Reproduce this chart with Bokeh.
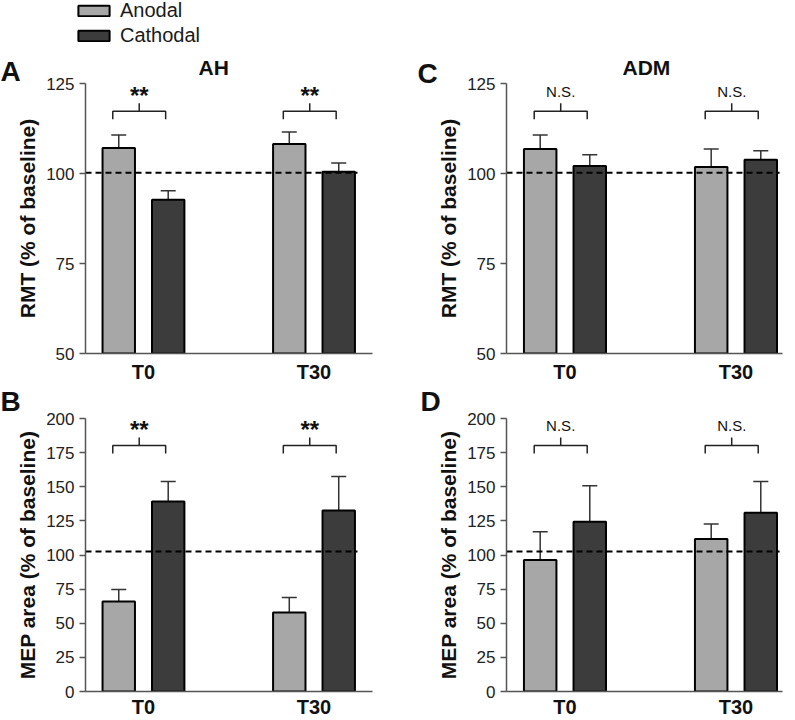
from bokeh.plotting import figure
from bokeh.layouts import row, column
from bokeh.models import (ColumnDataSource, Whisker, TeeHead, Label, Legend,
                          LegendItem, FixedTicker, Range1d)
from bokeh.core.properties import value
from bokeh.embed import file_html
from bokeh.resources import INLINE

# ---------------- data ----------------
times = ["T0", "T30"]
groups = ["Anodal", "Cathodal"]

# AH muscle – RMT (% of baseline)
ah_rmt_anodal = [107.1, 108.2]
ah_rmt_anodal_sem = [3.6, 3.3]
ah_rmt_cathodal = [92.7, 100.5]
ah_rmt_cathodal_sem = [2.5, 2.4]

# AH muscle – MEP area (% of baseline)
ah_mep_anodal = [65.9, 57.9]
ah_mep_anodal_sem = [8.8, 11.0]
ah_mep_cathodal = [139.2, 132.6]
ah_mep_cathodal_sem = [14.6, 24.9]

# ADM muscle – RMT (% of baseline)
adm_rmt_anodal = [106.8, 101.8]
adm_rmt_anodal_sem = [3.9, 5.0]
adm_rmt_cathodal = [102.1, 103.8]
adm_rmt_cathodal_sem = [3.1, 2.5]

# ADM muscle – MEP area (% of baseline)
adm_mep_anodal = [96.3, 111.8]
adm_mep_anodal_sem = [20.7, 11.0]
adm_mep_cathodal = [124.3, 130.9]
adm_mep_cathodal_sem = [26.5, 22.9]

rmt_ticks = [50, 75, 100, 125]
mep_ticks = [0, 25, 50, 75, 100, 125, 150, 175, 200]
rmt_baseline_line = 100.2
mep_baseline_line = 102.6
rmt_bracket = 117.3
mep_bracket = 180.2
sig_ah = ["**", "**"]
sig_adm = ["N.S.", "N.S."]

# ---------------- style ----------------
FONT = "Liberation Sans"
ANOD = "#a7a7a7"
CATH = "#3c3c3c"
AXC = "#555555"
DODGE = 0.145
BAR_W = 0.19
BR_SHIFT = -0.025
BR_HALF = 0.155
NAN = float("nan")


def make_panel(anod, anod_sem, cath, cath_sem, yticks, ylabel, ref_line,
               br_level, marks, xr, width, height, bl, br, bt, bb, x_standoff,
               title=None, title_offset=0):
    fh = height - bt - bb
    dy = (yticks[-1] - yticks[0]) / fh
    xs = list(range(len(times)))
    p = figure(width=width, height=height, x_range=Range1d(*xr),
               y_range=Range1d(yticks[0], yticks[-1]), output_backend="svg",
               toolbar_location=None, title=title, min_border=0)
    p.min_border_left = bl
    p.min_border_right = br
    p.min_border_top = bt
    p.min_border_bottom = bb
    p.outline_line_color = None
    p.xgrid.visible = False
    p.ygrid.visible = False
    p.background_fill_color = "white"
    p.border_fill_color = "white"
    if title:
        p.title.align = "left"
        p.title.vertical_align = "bottom"
        p.title.offset = title_offset
        p.title.text_font = FONT
        p.title.text_font_size = "21px"
        p.title.text_font_style = "bold"
        p.title.text_color = "#111111"
        try:
            p.title.standoff = 10
        except Exception:
            pass

    rends = []
    for vals, sems, off, color in ((anod, anod_sem, -DODGE, ANOD),
                                   (cath, cath_sem, DODGE, CATH)):
        src = ColumnDataSource(dict(x=[i + off for i in xs], top=vals,
                                    upper=[v + e for v, e in zip(vals, sems)]))
        w = Whisker(source=src, base="x", lower="top", upper="upper",
                    dimension="height", line_color="#333333", line_width=1.5,
                    lower_head=None,
                    upper_head=TeeHead(size=15, line_color="#333333", line_width=1.5))
        p.add_layout(w)
        r = p.vbar(x="x", top="top", bottom=yticks[0], width=BAR_W, source=src,
                   fill_color=color, line_color="black", line_width=2)
        rends.append(r)

    # dashed baseline reference
    p.segment(x0=[xr[0]], y0=[ref_line], x1=[xs[-1] + DODGE + BAR_W / 2 + 0.015],
              y1=[ref_line], line_color="black", line_width=2, line_dash="6 4")

    # significance brackets
    cx = [i + BR_SHIFT for i in xs]
    up = 8 * dy
    down = 8 * dy
    bx, by = [], []
    for c in cx:
        bx.append([c - BR_HALF, c - BR_HALF, c + BR_HALF, c + BR_HALF])
        by.append([br_level - down, br_level, br_level, br_level - down])
        bx.append([c, c])
        by.append([br_level, br_level + up])
    p.multi_line(bx, by, line_color="#222222", line_width=1.5)
    bold = marks[0] == "**"
    ty = br_level + up + 8 * dy if bold else br_level + up + 12 * dy
    p.text(x=cx, y=[ty] * len(cx), text=marks, text_align="center",
           text_baseline="alphabetic", text_font=value(FONT),
           text_font_size="24px" if bold else "15px",
           text_font_style="bold" if bold else "normal", text_color="#111111")

    # axes
    xa = p.xaxis[0]
    ya = p.yaxis[0]
    for ax in (xa, ya):
        ax.axis_line_color = AXC
        ax.axis_line_width = 1.5
        ax.major_tick_line_color = AXC
        ax.major_tick_line_width = 1.5
        ax.minor_tick_line_color = None
        ax.major_label_text_font = FONT
    xa.ticker = FixedTicker(ticks=xs)
    xa.major_label_overrides = {i: t for i, t in enumerate(times)}
    xa.major_tick_in = 0
    xa.major_tick_out = 0
    xa.major_tick_line_color = None
    xa.major_label_standoff = x_standoff
    xa.major_label_text_font_size = "20px"
    xa.major_label_text_font_style = "bold"
    xa.major_label_text_color = "#111111"

    ya.ticker = FixedTicker(ticks=yticks)
    ya.major_tick_in = 0
    ya.major_tick_out = 6
    ya.major_label_standoff = 5
    ya.major_label_text_font_size = "17px"
    ya.major_label_text_color = "#222222"
    ya.axis_label = ylabel
    ya.axis_label_text_font = FONT
    ya.axis_label_text_font_size = "21px"
    ya.axis_label_text_font_style = "bold"
    ya.axis_label_text_color = "#111111"
    ya.axis_label_standoff = 4
    return p, rends, fh


def canvas_label(p, side, text, x, y, size):
    p.add_layout(Label(x=x, y=y, x_units="canvas", y_units="canvas", text=text,
                       text_align="left", text_baseline="alphabetic",
                       text_font=FONT, text_font_size=size, text_font_style="bold",
                       text_color="#111111"), side)


XR_L = (-0.340, 1.343)
XR_R = (-0.342, 1.272)

# ---------------- legend header (page y 0..47) ----------------
hdr = figure(width=795, height=47, x_range=Range1d(0, 1), y_range=Range1d(0, 1),
             output_backend="svg", toolbar_location=None, title=None, min_border=0,
             x_axis_type=None, y_axis_type=None)
hdr.outline_line_color = None
hdr.grid.visible = False
hdr.background_fill_color = "white"
hdr.border_fill_color = "white"
h_an = hdr.vbar(x=[NAN], top=[NAN], width=0.1, fill_color=ANOD, line_color="black", line_width=2)
h_ca = hdr.vbar(x=[NAN], top=[NAN], width=0.1, fill_color=CATH, line_color="black", line_width=2)
leg = Legend(items=[LegendItem(label=groups[0], renderers=[h_an]),
                    LegendItem(label=groups[1], renderers=[h_ca])],
             location=(74, 0), orientation="vertical",
             glyph_width=39, glyph_height=13, label_standoff=7, spacing=2,
             padding=0, margin=0, border_line_color=None,
             background_fill_alpha=0, label_text_font=FONT,
             label_text_font_size="20px", label_text_color="#1a1a1a")
hdr.add_layout(leg)

# row 1 : page y 47..385, frame 83..355 ; row 2 : page y 385..720, frame 418..691
pA, rA, fhA = make_panel(ah_rmt_anodal, ah_rmt_anodal_sem, ah_rmt_cathodal, ah_rmt_cathodal_sem,
                         rmt_ticks, "RMT (% of baseline)", rmt_baseline_line, rmt_bracket,
                         sig_ah, XR_L, 400, 338, 85, 28, 36, 30, 7, "AH", 113)
pC, rC, fhC = make_panel(adm_rmt_anodal, adm_rmt_anodal_sem, adm_rmt_cathodal, adm_rmt_cathodal_sem,
                         rmt_ticks, "RMT (% of baseline)", rmt_baseline_line, rmt_bracket,
                         sig_adm, XR_R, 395, 338, 106, 13, 36, 30, 7, "ADM", 116)
pB, rB, fhB = make_panel(ah_mep_anodal, ah_mep_anodal_sem, ah_mep_cathodal, ah_mep_cathodal_sem,
                         mep_ticks, "MEP area (% of baseline)", mep_baseline_line, mep_bracket,
                         sig_ah, XR_L, 400, 335, 85, 28, 33, 29, 4)
pD, rD, fhD = make_panel(adm_mep_anodal, adm_mep_anodal_sem, adm_mep_cathodal, adm_mep_cathodal_sem,
                         mep_ticks, "MEP area (% of baseline)", mep_baseline_line, mep_bracket,
                         sig_adm, XR_R, 395, 335, 106, 13, 33, 29, 4)

# panel letters (positions on each figure's own canvas)
canvas_label(pA, "right", "A", 0, 24, "28px")
canvas_label(pC, "left", "C", 17, 26, "28px")
canvas_label(pB, "right", "B", 0, 16, "28px")
canvas_label(pD, "left", "D", 20, 16, "28px")

layout = column(hdr, row(pA, pC), row(pB, pD))
open("out.html", "w").write(file_html(layout, INLINE))
